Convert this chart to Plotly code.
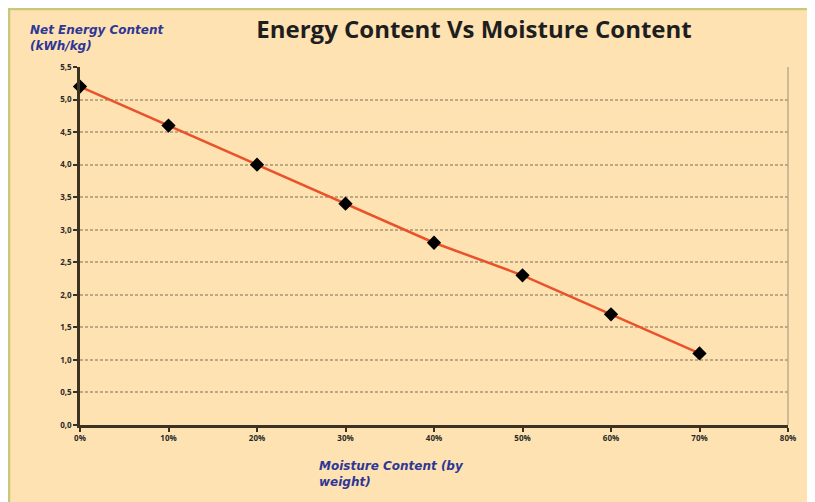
import plotly.graph_objects as go

moisture = [0.0, 0.1, 0.2, 0.3, 0.4, 0.5, 0.6, 0.7]
energy = [5.2, 4.6, 4.0, 3.4, 2.8, 2.3, 1.7, 1.1]
x_ticks = [0.0, 0.1, 0.2, 0.3, 0.4, 0.5, 0.6, 0.7, 0.8]
y_ticks = [0.0, 0.5, 1.0, 1.5, 2.0, 2.5, 3.0, 3.5, 4.0, 4.5, 5.0, 5.5]

title_text = "Energy Content Vs Moisture Content"
y_title = "Net Energy Content<br>(kWh/kg)"
x_title = "Moisture Content (by<br>weight)"

# page body has an 8px margin; figure sized to fit the 815x502 window
OFF = 8
W, H = 815 - OFF, 502 - OFF
L, R, T, B = 72, 27, 59, 77
pw, ph = W - L - R, H - T - B

def px(page_x):
    return (page_x - OFF - L) / pw

def py(page_y):
    return (H - B - (page_y - OFF)) / ph

peach = "#FEE2B2"
axis_col = "#3B3222"
blue = "#2E3796"

fig = go.Figure()
fig.add_trace(go.Scatter(
    x=moisture, y=energy, mode="lines+markers",
    line=dict(color="#E9522A", width=2.5),
    marker=dict(symbol="diamond", size=11, color="black"),
    showlegend=False, cliponaxis=False,
))

fig.update_layout(
    width=W, height=H,
    margin=dict(l=L, r=R, t=T, b=B),
    paper_bgcolor=peach,
    plot_bgcolor="rgba(0,0,0,0)",
    separators=",.",
    font=dict(family="Open Sans, sans-serif", color="#2a2a2a"),
    title=dict(text=title_text, x=px(474), xanchor="center", xref="paper",
               y=1 - (30 - OFF) / H, yanchor="middle",
               font=dict(size=24, color="#1e1e1e", family="Open Sans, sans-serif", weight="bold")),
    xaxis=dict(range=[0, 0.8], tickvals=x_ticks, tickformat=".0%",
               showgrid=False, zeroline=False, showline=True, linecolor=axis_col, linewidth=2.5,
               ticks="outside", ticklen=4, tickcolor=axis_col, tickwidth=1.5,
               tickfont=dict(size=8, color="#2a2a2a", weight="bold")),
    yaxis=dict(range=[0, 5.5], tickvals=y_ticks, tickformat=".1f",
               showgrid=True, gridcolor="#BDA981", griddash="3px,2px", gridwidth=1.5,
               zeroline=False, showline=True, linecolor=axis_col, linewidth=2.5,
               ticks="outside", ticklen=4, tickcolor=axis_col, tickwidth=1.5,
               tickfont=dict(size=8, color="#2a2a2a", weight="bold")),
    shapes=[
        dict(type="rect", xref="paper", yref="paper", layer="below",
             x0=px(OFF + 1), x1=px(830), y0=py(520), y1=py(OFF + 1),
             fillcolor=peach, line=dict(color="#C9C77A", width=2.5)),
        dict(type="line", xref="paper", yref="paper", layer="below",
             x0=1, x1=1, y0=0, y1=1, line=dict(color="#A89E88", width=1.2)),
    ],
    annotations=[
        dict(text=y_title, xref="paper", yref="paper", x=px(28), y=py(38),
             xanchor="left", yanchor="middle", align="left", showarrow=False,
             font=dict(size=12, color=blue, style="italic", weight="bold",
                       family="DejaVu Sans, sans-serif")),
        dict(text=x_title, xref="paper", yref="paper", x=px(317), y=py(474),
             xanchor="left", yanchor="middle", align="left", showarrow=False,
             font=dict(size=12, color=blue, style="italic", weight="bold",
                       family="DejaVu Sans, sans-serif")),
    ],
)

fig.write_html("out.html")
